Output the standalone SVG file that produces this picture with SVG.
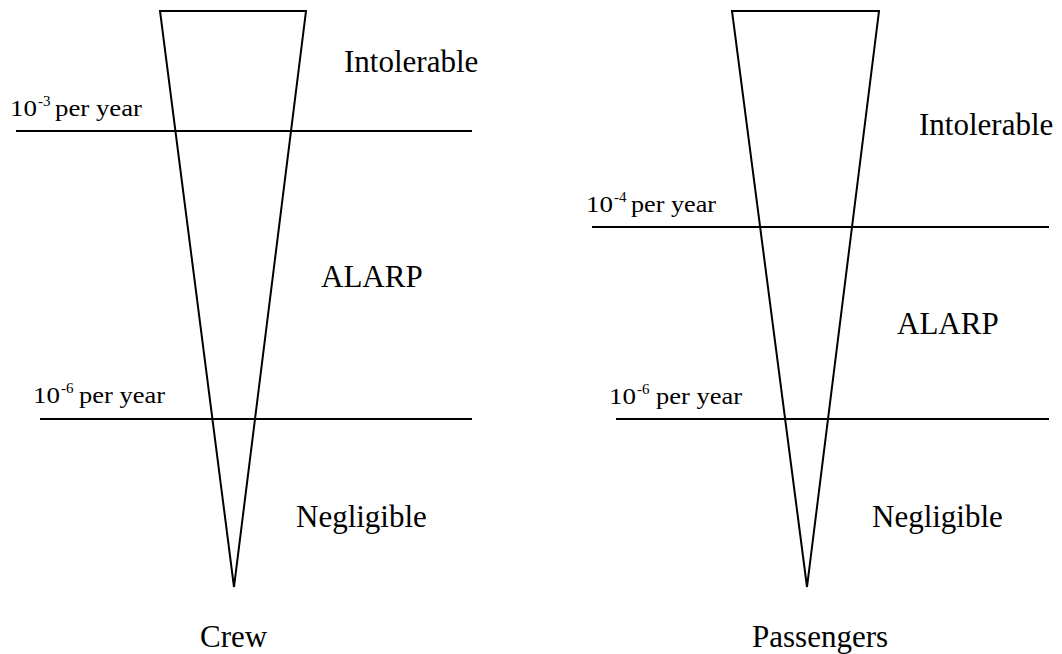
<svg xmlns="http://www.w3.org/2000/svg" width="1062" height="654" viewBox="0 0 1062 654">
<style>
.ln{stroke:#000;stroke-width:2;fill:none}
.big{font-family:"Liberation Serif","Times New Roman",serif;font-size:31px;fill:#000}
.sm{font-family:"Liberation Serif","Times New Roman",serif;font-size:24px;fill:#000}
.sup{font-family:"Liberation Serif","Times New Roman",serif;font-size:15px;fill:#000}
</style>
<rect width="1062" height="654" fill="#fff"/>
<g id="crew">
<polygon class="ln" points="160,11 306,11 234,587"/>
<line class="ln" x1="16" y1="131" x2="472" y2="131"/>
<line class="ln" x1="40" y1="419" x2="472" y2="419"/>
<text class="sm" x="10" y="116" textLength="27" lengthAdjust="spacingAndGlyphs">10</text>
<text class="sup" x="38" y="106">-3</text>
<text class="sm" x="55" y="116" textLength="87" lengthAdjust="spacingAndGlyphs">per year</text>
<text class="sm" x="33" y="403" textLength="27" lengthAdjust="spacingAndGlyphs">10</text>
<text class="sup" x="61" y="393">-6</text>
<text class="sm" x="79" y="403" textLength="86" lengthAdjust="spacingAndGlyphs">per year</text>
<text class="big" x="344" y="72">Intolerable</text>
<text class="big" x="321" y="287">ALARP</text>
<text class="big" x="296" y="527">Negligible</text>
<text class="big" x="200" y="647">Crew</text>
</g>
<g id="passengers">
<polygon class="ln" points="732,11 879,11 807,587"/>
<line class="ln" x1="592" y1="227" x2="1049" y2="227"/>
<line class="ln" x1="616" y1="419" x2="1049" y2="419"/>
<text class="sm" x="586" y="212" textLength="27" lengthAdjust="spacingAndGlyphs">10</text>
<text class="sup" x="614" y="202">-4</text>
<text class="sm" x="631" y="212" textLength="85" lengthAdjust="spacingAndGlyphs">per year</text>
<text class="sm" x="609" y="404" textLength="27" lengthAdjust="spacingAndGlyphs">10</text>
<text class="sup" x="637" y="394">-6</text>
<text class="sm" x="656" y="404" textLength="86" lengthAdjust="spacingAndGlyphs">per year</text>
<text class="big" x="919" y="135">Intolerable</text>
<text class="big" x="897" y="334">ALARP</text>
<text class="big" x="872" y="527">Negligible</text>
<text class="big" x="752" y="647">Passengers</text>
</g>
</svg>
